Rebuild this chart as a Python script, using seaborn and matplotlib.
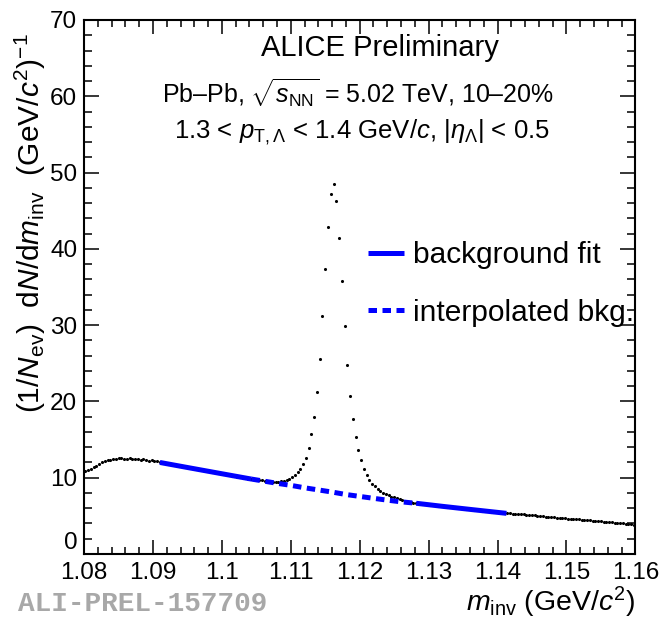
import numpy as np
import pandas as pd
import matplotlib
matplotlib.use("Agg")
import matplotlib.pyplot as plt
import seaborn as sns
from matplotlib.ticker import MultipleLocator
from matplotlib.lines import Line2D

# ---------------- data ----------------
m_min, m_max, n_bins = 1.08, 1.16, 200

counts_left = [
    10.9, 11.05, 11.2, 11.4, 11.6, 11.85, 12.0, 12.2, 12.3, 12.35,
    12.45, 12.4, 12.65, 12.6, 12.5, 12.4, 12.6, 12.5, 12.45, 12.5,
    12.3, 12.4, 12.3, 12.2, 12.3, 12.15, 12.2, 12.05, 11.95, 11.92,
    11.82, 11.77, 11.68, 11.63, 11.55, 11.48, 11.43, 11.35, 11.3, 11.21,
    11.16, 11.08, 11.03, 10.95, 10.88, 10.83, 10.74, 10.7, 10.61, 10.56,
    10.48, 10.43, 10.35, 10.28, 10.23, 10.15, 10.09, 10.02, 9.96, 9.89,
    9.83, 9.78, 9.73, 9.69, 9.66, 9.62, 9.58, 9.55, 9.5, 9.47,
    9.5, 9.52, 9.6, 9.7, 9.8, 10.05, 10.3,
]
counts_peak = [
    10.8, 11.1, 11.75, 12.65, 13.95, 15.7, 18.0, 21.3, 25.6, 31.2,
    37.3, 42.9, 47.2, 48.45, 46.3, 41.4, 35.8, 29.9, 24.8, 20.7,
    17.7, 15.3, 13.6, 12.3, 11.1, 10.35, 9.7, 9.2,
]
counts_right = [
    8.85, 8.55, 8.3, 8.05, 7.85, 7.7, 7.52, 7.42, 7.3, 7.2,
    7.05, 6.97, 6.87, 6.78, 6.72, 6.65, 6.61, 6.58, 6.53, 6.49,
    6.46, 6.41, 6.37, 6.34, 6.29, 6.25, 6.22, 6.17, 6.13, 6.1,
    6.05, 6.01, 5.98, 5.93, 5.89, 5.86, 5.81, 5.77, 5.74, 5.69,
    5.65, 5.62, 5.57, 5.53, 5.5, 5.45, 5.41, 5.38, 5.33, 5.31,
    5.28, 5.27, 5.24, 5.22, 5.2, 5.16, 5.15, 5.1, 5.07, 5.02,
    4.99, 4.93, 4.9, 4.89, 4.84, 4.8, 4.78, 4.75, 4.7, 4.69,
    4.65, 4.63, 4.6, 4.56, 4.53, 4.5, 4.48, 4.44, 4.4, 4.37,
    4.33, 4.3, 4.27, 4.22, 4.19, 4.15, 4.13, 4.1, 4.08, 4.05,
    4.03, 3.99, 3.95, 3.9, 3.83,
]
counts = counts_left + counts_peak + counts_right

fit_left_m = [1.0910, 1.0950, 1.1000, 1.1043]
fit_left_y = [12.0, 11.34, 10.52, 9.82]
fit_right_m = [1.1282, 1.1320, 1.1360, 1.1413]
fit_right_y = [6.65, 6.25, 5.85, 5.33]
interp_m = [1.1043, 1.1060, 1.1080, 1.1100, 1.1120, 1.1140, 1.1160,
            1.1180, 1.1200, 1.1220, 1.1240, 1.1260, 1.1282]
interp_y = [9.82, 9.57, 9.27, 9.0, 8.68, 8.4, 8.12,
            7.8, 7.55, 7.3, 7.06, 6.84, 6.65]

x_ticks = [1.08, 1.09, 1.10, 1.11, 1.12, 1.13, 1.14, 1.15, 1.16]
x_tick_labels = ["1.08", "1.09", "1.1", "1.11", "1.12", "1.13", "1.14", "1.15", "1.16"]
y_ticks = [0, 10, 20, 30, 40, 50, 60, 70]

# ---------------- build tables ----------------
edges = np.linspace(m_min, m_max, n_bins + 1)
centers = 0.5 * (edges[:-1] + edges[1:])
df_data = pd.DataFrame({"m": centers, "counts": counts})
df_fit = pd.DataFrame({
    "m": fit_left_m + fit_right_m,
    "y": fit_left_y + fit_right_y,
    "seg": ["left"] * len(fit_left_m) + ["right"] * len(fit_right_m),
})
df_interp = pd.DataFrame({"m": interp_m, "y": interp_y})

# ---------------- style ----------------
sns.set_theme(style="ticks")
plt.rcParams["font.family"] = ["Liberation Sans", "DejaVu Sans"]
plt.rcParams["mathtext.fontset"] = "custom"
plt.rcParams["mathtext.rm"] = "Liberation Sans"
plt.rcParams["mathtext.it"] = "Liberation Sans:italic"
plt.rcParams["mathtext.bf"] = "Liberation Sans:bold"
plt.rcParams["text.color"] = "black"
plt.rcParams["axes.labelcolor"] = "black"
plt.rcParams["xtick.color"] = "black"
plt.rcParams["ytick.color"] = "black"

fig = plt.figure(figsize=(6.6, 6.17), dpi=100)
ax = fig.add_axes([0.1274, 0.1021, 0.8352, 0.8655])

blue = "#0000ff"
sns.scatterplot(data=df_data, x="m", y="counts", color="black", s=5,
                linewidth=0, ax=ax, legend=False, zorder=2)
sns.lineplot(data=df_fit, x="m", y="y", units="seg", estimator=None,
             color=blue, linewidth=3.6, ax=ax, legend=False,
             solid_capstyle="butt", zorder=4)
sns.lineplot(data=df_interp, x="m", y="y", estimator=None,
             color=blue, linewidth=3.6, ax=ax, legend=False,
             linestyle=(0, (1.7, 1.1)), dash_capstyle="butt", zorder=4)

ax.set_xlim(m_min, m_max)
ax.set_ylim(0, 70)
ax.set_xticks(x_ticks)
ax.set_xticklabels(x_tick_labels)
ax.set_yticks(y_ticks)
ax.xaxis.set_minor_locator(MultipleLocator(0.002))
ax.yaxis.set_minor_locator(MultipleLocator(2))

for s in ax.spines.values():
    s.set_visible(True)
    s.set_linewidth(1.5)
    s.set_color("black")

ax.tick_params(which="both", direction="in", top=True, right=True,
               colors="black", labelcolor="black", labelsize=17.5, width=1.1)
ax.tick_params(axis="x", which="major", length=10, pad=6)
ax.tick_params(axis="x", which="minor", length=5)
ax.tick_params(axis="y", which="major", length=11, pad=5)
ax.tick_params(axis="y", which="minor", length=5.5)

# ROOT-style: the "0" label sits just above the corner
ax.get_yticklabels()[0].set_verticalalignment("bottom")

ax.set_xlabel(r"$m_{\rm inv}$ (GeV/$c^{2}$)", fontsize=20.5, loc="right")
ax.xaxis.set_label_coords(1.0, -0.058)
ax.set_ylabel(r"(1/$N_{\rm ev}$)  d$N$/d$m_{\rm inv}$  (GeV/$c^{2}$)$^{-1}$",
              fontsize=21.5, loc="top")
ax.yaxis.set_label_coords(-0.066, 0.975)

# legend
handles = [
    Line2D([], [], color=blue, linewidth=3.6, solid_capstyle="butt"),
    Line2D([], [], color=blue, linewidth=3.6, linestyle=(0, (1.7, 1.1)),
           dash_capstyle="butt"),
]
ax.legend(handles, ["background fit", "interpolated bkg."],
          loc="center left", bbox_to_anchor=(0.515, 0.5056), frameon=False,
          fontsize=21.5, handlelength=1.2, handletextpad=0.3,
          labelspacing=1.0, borderaxespad=0, borderpad=0)

# header texts
ax.text(0.537, 0.9476, "ALICE Preliminary", transform=ax.transAxes,
        ha="center", va="center", fontsize=21)
ax.text(0.497, 0.862, r"Pb–Pb, $\sqrt{s_{\rm NN}}$ = 5.02 TeV, 10–20%",
        transform=ax.transAxes, ha="center", va="center", fontsize=18)
ax.text(0.504, 0.79,
        r"1.3 < $p_{\rm T,\Lambda}$ < 1.4 GeV/$c$, |$\eta_{\Lambda}$| < 0.5",
        transform=ax.transAxes, ha="center", va="center", fontsize=18.5)

fig.text(0.027, 0.009, "ALI-PREL-157709", family="Liberation Mono",
         weight="bold", color="#a8a8a8", fontsize=20, ha="left", va="baseline")

fig.savefig("out.png", dpi=100)
